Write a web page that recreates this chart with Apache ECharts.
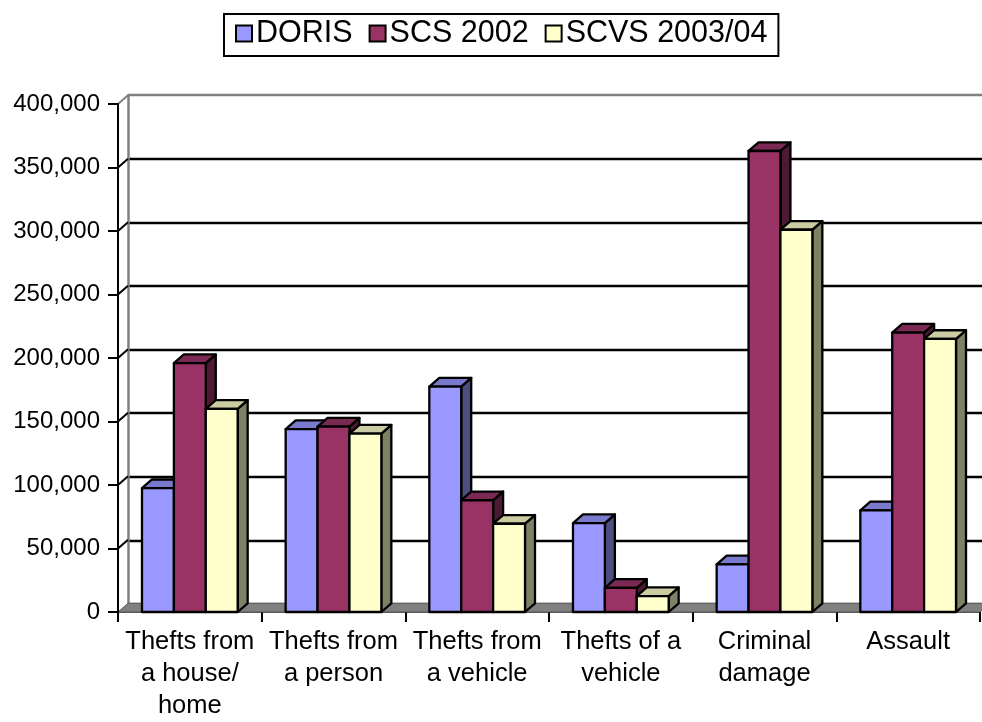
<!DOCTYPE html>
<html>
<head>
<meta charset="utf-8">
<script src="https://cdn.jsdelivr.net/npm/echarts@6/dist/echarts.min.js"></script>
<style>
  html, body { margin: 0; padding: 0; background: #fff; }
  #chart { width: 982px; height: 722px; }
</style>
</head>
<body>
<div id="chart"></div>
<script>
// Offence categories and recorded counts per survey
const categories = [
  'Thefts from\na house/\nhome',
  'Thefts from\na person',
  'Thefts from\na vehicle',
  'Thefts of a\nvehicle',
  'Criminal\ndamage',
  'Assault'
];
const seriesNames = ['DORIS', 'SCS 2002', 'SCVS 2003/04'];
const doris = [97500, 144000, 177500, 70000, 37500, 80000];
const scs2002 = [196000, 146000, 88000, 19000, 363000, 220000];
const scvs0304 = [160000, 140500, 69500, 12500, 301000, 215000];
const yTicks = [0, 50000, 100000, 150000, 200000, 250000, 300000, 350000, 400000];

const FONT = "'Liberation Sans', Arial, sans-serif";
// depth of the pseudo-3D extrusion (px)
const DX = 10, DY = 8.7;
const BAR_RATIO = 0.222;

// front, top and side shades for each series
const shades = [
  { front: '#9999FF', top: '#7A7ACC', side: '#4D4D80' },
  { front: '#993366', top: '#7A2952', side: '#4D1A33' },
  { front: '#FFFFCC', top: '#CCCCA3', side: '#808066' }
];

function barRenderer(si) {
  const c = shades[si];
  return function (params, api) {
    const cat = api.value(0);
    const val = api.value(1);
    const base = api.coord([cat, 0]);
    const top = api.coord([cat, val]);
    const band = api.size([1, 0])[0];
    const bw = band * BAR_RATIO;
    const x = base[0] + (si - 1.5) * bw;
    const y0 = base[1], y1 = top[1];
    const stroke = { stroke: '#000', lineWidth: 2.3, lineJoin: 'round' };
    return {
      type: 'group',
      children: [
        { type: 'polygon', shape: { points: [[x + bw, y1], [x + bw + DX, y1 - DY], [x + bw + DX, y0 - DY], [x + bw, y0]] },
          style: Object.assign({ fill: c.side }, stroke) },
        { type: 'polygon', shape: { points: [[x, y1], [x + DX, y1 - DY], [x + bw + DX, y1 - DY], [x + bw, y1]] },
          style: Object.assign({ fill: c.top }, stroke) },
        { type: 'rect', shape: { x: x, y: y1, width: bw, height: y0 - y1 },
          style: Object.assign({ fill: c.front }, stroke) }
      ]
    };
  };
}

// floor slab and the short connectors from the front axis to the back wall
function frameRenderer(params, api) {
  const cs = params.coordSys;
  const y0 = api.coord([0, 0])[1];
  const children = [
    { type: 'polygon', shape: { points: [[cs.x, y0], [cs.x + cs.width, y0], [cs.x + cs.width + DX, y0 - DY], [cs.x + DX, y0 - DY]] },
      style: { fill: '#808080', stroke: '#5a5a5a', lineWidth: 1 } }
  ];
  yTicks.forEach(function (v, i) {
    if (v === 0) return;
    const y = api.coord([0, v])[1];
    children.push({ type: 'line', shape: { x1: cs.x, y1: y, x2: cs.x + DX, y2: y - DY },
      style: { stroke: i === yTicks.length - 1 ? '#808080' : '#000', lineWidth: 2 } });
  });
  return { type: 'group', children: children };
}

function toData(arr) { return arr.map(function (v, i) { return [i, v]; }); }

const chart = echarts.init(document.getElementById('chart'), null, { renderer: 'canvas' });
chart.setOption({
  backgroundColor: '#fff',
  animation: false,
  textStyle: { fontFamily: FONT },
  legend: {
    data: seriesNames,
    left: 224,
    top: 14,
    padding: [4, 11, 7, 11],
    itemGap: 16,
    itemWidth: 16,
    itemHeight: 16,
    icon: 'rect',
    borderColor: '#000',
    borderWidth: 2,
    itemStyle: { borderColor: '#000', borderWidth: 2 },
    textStyle: { fontFamily: FONT, fontSize: 30.5, color: '#000', lineHeight: 28, padding: [0, 0, 0, -1] }
  },
  grid: [
    { left: 118, right: 2, top: 104, bottom: 109, containLabel: false },
    { left: 128, right: 0, top: 95, bottom: 118, containLabel: false }
  ],
  xAxis: [
    {
      type: 'category', gridIndex: 0, data: categories,
      axisLine: { show: true, lineStyle: { color: '#555', width: 1 } },
      axisTick: { show: true, length: 10, lineStyle: { color: '#000', width: 2 } },
      axisLabel: { fontFamily: FONT, fontSize: 25.5, color: '#000', lineHeight: 32, margin: 14, interval: 0 },
      splitLine: { show: false }
    },
    { type: 'value', gridIndex: 1, show: false, min: 0, max: 1 }
  ],
  yAxis: [
    {
      type: 'value', gridIndex: 0, min: 0, max: 400000, interval: 50000, z: 10,
      axisLine: { show: true, lineStyle: { color: '#000', width: 2 } },
      axisTick: { show: true, length: 10, lineStyle: { color: '#000', width: 2 } },
      axisLabel: {
        fontFamily: FONT, fontSize: 24, color: '#000', margin: 18,
        formatter: function (v) { return v.toLocaleString('en-US'); }
      },
      splitLine: { show: false }
    },
    {
      type: 'value', gridIndex: 1, min: 0, max: 400000, interval: 50000,
      axisLine: { show: true, lineStyle: { color: '#808080', width: 2.5 } },
      axisTick: { show: false },
      axisLabel: { show: false },
      splitLine: {
        show: true,
        lineStyle: { width: 2.3, color: ['#808080', '#000', '#000', '#000', '#000', '#000', '#000', '#000', '#808080'] }
      }
    }
  ],
  series: [
    {
      type: 'custom', name: 'frame', xAxisIndex: 0, yAxisIndex: 0, z: 1, silent: true,
      data: [[0, 0]], renderItem: frameRenderer
    },
    {
      type: 'custom', name: seriesNames[0], xAxisIndex: 0, yAxisIndex: 0, z: 3,
      itemStyle: { color: shades[0].front }, data: toData(doris), renderItem: barRenderer(0)
    },
    {
      type: 'custom', name: seriesNames[1], xAxisIndex: 0, yAxisIndex: 0, z: 4,
      itemStyle: { color: shades[1].front }, data: toData(scs2002), renderItem: barRenderer(1)
    },
    {
      type: 'custom', name: seriesNames[2], xAxisIndex: 0, yAxisIndex: 0, z: 5,
      itemStyle: { color: shades[2].front }, data: toData(scvs0304), renderItem: barRenderer(2)
    }
  ]
});
</script>
</body>
</html>
